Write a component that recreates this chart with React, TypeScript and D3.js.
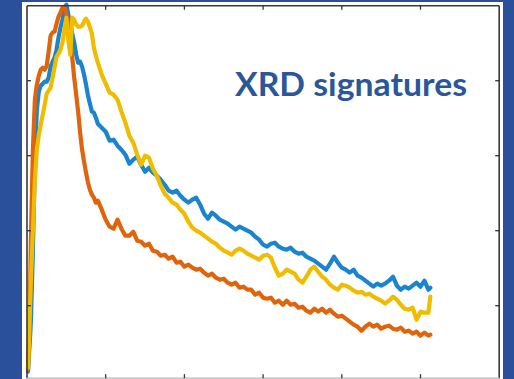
import React from "react";
import * as d3 from "d3";

// 2θ sample positions shared by the three signatures
const twoTheta: number[] = [
  0.25, 0.5, 0.75, 1, 1.5, 2, 2.5, 3, 3.5, 4, 4.5, 5, 5.5, 6, 6.5, 7, 7.5, 8, 8.5, 9, 9.5, 10,
  10.5, 11, 11.5, 12, 12.5, 13, 13.5, 14, 14.5, 15, 15.5, 16, 16.5, 17, 17.5, 18,
  19, 20, 21, 22, 23, 24, 25, 26, 27, 28, 29, 30, 31, 32, 33, 34, 35, 36, 37, 38,
  39, 40, 41, 42, 43, 44, 45, 46, 47, 48, 49, 50, 51, 52, 53, 54, 55, 56, 57, 58,
  59, 60, 61, 62, 63, 64, 65, 66, 67, 68, 69, 70, 71, 72, 73, 74, 75, 76, 77, 78,
  79, 80, 81, 82, 83, 84, 85, 86, 87, 88, 89, 90, 91, 92, 93, 94, 95, 96, 97, 98,
  99, 100, 101, 102, 102.5,
];

const blueSignature: number[] = [
  3.6, 10.4, 16.4, 24.4, 52.4, 88.4, 108.4, 115.6, 118.0, 118.8, 119.6, 119.6, 121.2, 125.6,
  127.6, 129.2, 132.4, 137.2, 141.2, 144.4, 148.4, 150.4, 146.4, 142.4, 138.8, 135.2, 130.4,
  127.2, 127.6, 125.6, 122.4, 118.4, 114.0, 110.8, 107.6, 107.2, 105.2, 102.8,
  101.2, 99.6, 96.0, 96.4, 94.0, 92.4, 90.4, 86.8, 88.4, 89.6,
  86.4, 83.6, 85.2, 83.2, 82.0, 80.4, 78.4, 76.0, 75.2, 76.0,
  74.0, 72.4, 71.2, 72.4, 73.2, 70.4, 66.8, 64.8, 67.2, 66.0,
  64.4, 63.6, 62.8, 61.6, 60.4, 61.6, 60.8, 60.0, 59.2, 57.6,
  56.4, 54.4, 53.6, 54.8, 55.2, 53.6, 52.8, 52.4, 53.2, 51.6,
  50.8, 51.2, 49.6, 48.8, 48.0, 46.8, 45.6, 44.4, 46.8, 49.6,
  47.2, 45.2, 44.4, 43.2, 44.4, 42.0, 41.2, 40.0, 38.8, 37.6,
  38.8, 38.0, 38.8, 40.0, 41.6, 38.0, 36.4, 37.6, 36.8, 38.0,
  39.2, 37.6, 40.0, 36.4, 37.2,
];

const orangeSignature: number[] = [
  4.4, 16.4, 32.4, 56.4, 92.4, 112.4, 118.4, 122.0, 124.4, 125.2, 124.4, 126.0, 131.6, 138.0,
  139.2, 139.6, 142.8, 145.6, 147.2, 149.2, 149.6, 146.8, 142.0, 138.4, 129.2, 121.2, 114.4,
  107.6, 99.2, 92.4, 87.6, 83.2, 79.2, 76.4, 74.4, 73.2, 71.2, 72.0,
  68.4, 64.4, 61.6, 60.8, 64.4, 60.8, 58.0, 58.0, 59.6, 56.0,
  55.6, 54.0, 54.8, 52.0, 51.6, 50.0, 50.4, 48.8, 49.6, 47.2,
  47.6, 45.6, 46.4, 45.2, 44.4, 44.8, 43.2, 42.0, 42.8, 41.2,
  40.4, 40.8, 39.2, 38.4, 39.2, 37.2, 37.6, 36.4, 36.4, 34.4,
  35.2, 33.2, 32.8, 33.2, 31.2, 32.0, 30.4, 32.0, 30.4, 30.8,
  29.2, 29.6, 28.0, 27.2, 28.8, 27.6, 28.8, 27.2, 28.4, 26.8,
  25.6, 26.0, 24.8, 23.6, 22.4, 21.6, 20.0, 21.6, 22.8, 21.6,
  22.4, 20.8, 21.6, 22.0, 20.8, 20.4, 21.2, 19.6, 20.0, 18.8,
  19.6, 18.0, 19.2, 18.0, 18.4,
];

const yellowSignature: number[] = [
  5.2, 14.4, 28.4, 40.4, 60.4, 80.4, 92.4, 98.4, 102.4, 106.4, 110.4, 114.8, 116.0, 117.2,
  121.2, 125.2, 129.6, 130.8, 132.4, 135.2, 140.4, 145.2, 136.4, 130.4, 145.2, 144.4, 142.4,
  141.6, 141.6, 142.0, 143.6, 144.8, 143.6, 141.2, 138.8, 133.2, 130.0, 127.2,
  122.4, 118.8, 115.2, 114.4, 112.4, 107.6, 103.2, 98.0, 95.2, 90.4,
  86.4, 90.0, 89.2, 84.8, 82.0, 78.0, 74.8, 73.2, 71.2, 70.4,
  68.4, 66.8, 63.6, 61.2, 60.0, 59.2, 58.0, 56.8, 55.6, 54.8,
  53.2, 52.0, 51.2, 50.4, 52.0, 52.8, 52.0, 50.8, 50.0, 49.2,
  48.4, 50.0, 50.4, 49.2, 45.2, 42.0, 42.8, 44.4, 43.6, 42.8,
  40.4, 39.2, 41.6, 44.4, 45.6, 43.6, 41.6, 40.4, 38.4, 37.2,
  36.4, 38.4, 38.0, 37.2, 36.0, 35.2, 35.6, 34.4, 34.8, 33.6,
  32.8, 32.0, 30.8, 32.0, 33.6, 32.4, 30.4, 28.8, 28.4, 29.2,
  24.4, 27.6, 27.2, 27.2, 33.6,
];

const xTicks: number[] = [20, 40, 60, 80, 100];
const yTicks: number[] = [30, 60, 90, 120];
const titleText = "XRD signatures";

const series = [
  { name: "blue", values: blueSignature, color: "#1A84CE" },
  { name: "orange", values: orangeSignature, color: "#E0640C" },
  { name: "yellow", values: yellowSignature, color: "#EFBC00" },
];

const W = 514;
const H = 379;

export default function App() {
  const x = d3.scaleLinear().domain([0, 120]).range([27, 499.2]);
  const y = d3.scaleLinear().domain([1, 150]).range([378.2, 5.7]);
  const [x0, x1] = x.range();
  const [yb, yt] = y.range();
  const tickLen = 4;

  const line = (vals: number[]) =>
    d3
      .line<number>()
      .x((_, i) => x(twoTheta[i]))
      .y((v) => y(v))(vals) || "";

  return (
    <svg
      width={W}
      height={H}
      style={{ position: "absolute", left: 0, top: 0, display: "block" }}
    >
      <rect x={0} y={0} width={W} height={H} fill="#2A509B" />
      <rect x={22} y={2} width={481} height={H - 2} fill="#ffffff" />

      {/* lines */}
      {series.map((s) => (
        <path
          key={s.name}
          d={line(s.values)}
          fill="none"
          stroke={s.color}
          strokeWidth={4.2}
          strokeLinejoin="round"
          strokeLinecap="round"
        />
      ))}

      {/* box */}
      <line x1={x0} x2={x0} y1={yt} y2={yb} stroke="#3a3a3a" strokeWidth={1.6} />
      <line x1={x1} x2={x1} y1={yt} y2={yb} stroke="#3a3a3a" strokeWidth={1.6} />
      <line x1={x0} x2={x1} y1={yt} y2={yt} stroke="#3a3a3a" strokeWidth={1.6} />
      <line x1={x0} x2={x1} y1={yb} y2={yb} stroke="#b8b8b8" strokeWidth={1.2} />

      {/* ticks */}
      {xTicks.map((t) => (
        <g key={"xt" + t}>
          <line x1={x(t)} x2={x(t)} y1={yb} y2={yb - tickLen} stroke="#333" strokeWidth={1.3} />
          <line x1={x(t)} x2={x(t)} y1={yt} y2={yt + tickLen} stroke="#333" strokeWidth={1.3} />
        </g>
      ))}
      {yTicks.map((t) => (
        <g key={"yt" + t}>
          <line x1={x0} x2={x0 + tickLen} y1={y(t)} y2={y(t)} stroke="#333" strokeWidth={1.3} />
          <line x1={x1} x2={x1 - tickLen} y1={y(t)} y2={y(t)} stroke="#333" strokeWidth={1.3} />
        </g>
      ))}

      <text
        x={235}
        y={96}
        fill="#2B579A"
        fontFamily="Lato, 'Open Sans', sans-serif"
        fontWeight={700}
        fontSize={32}
        textLength={232}
        lengthAdjust="spacingAndGlyphs"
      >
        {titleText}
      </text>
    </svg>
  );
}
